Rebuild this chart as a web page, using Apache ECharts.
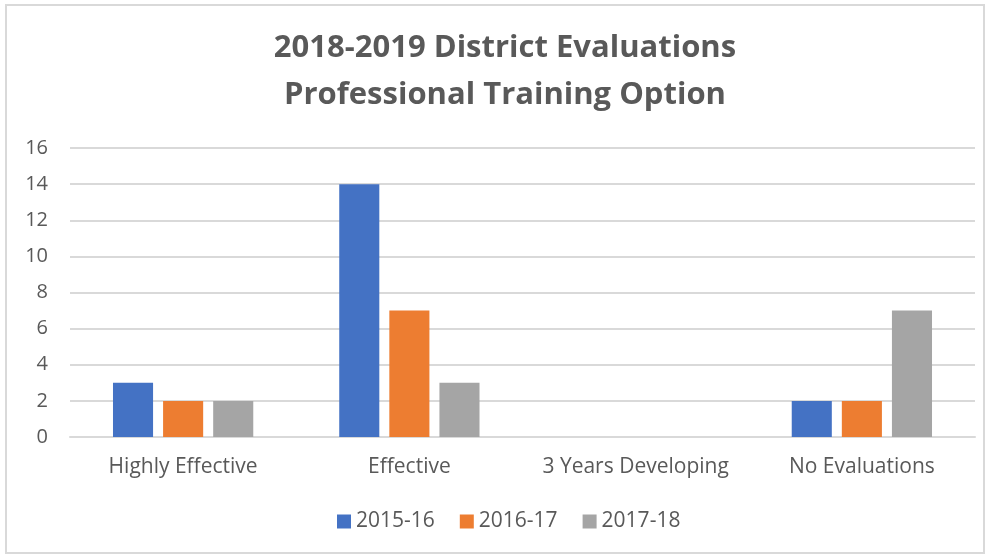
<!DOCTYPE html>
<html>
<head>
    <meta charset="utf-8" />
    <script type="text/javascript" src="https://cdn.jsdelivr.net/npm/echarts@6/dist/echarts.min.js"></script>
    <style>
      body{ margin: 0; background: #fff; }
      .container{
        position: absolute;
        left: 5px;
        top: 4px;
        width: 980px;
        height: 550px;
        border: 2px solid #d9d9d9;
        box-sizing: border-box;
      }
    </style>
</head>
<body>
<div class="container" id="container"></div>
<script>
var categories = ['Highly Effective', 'Effective', '3 Years Developing', 'No Evaluations'];
var seriesNames = ['2015-16', '2016-17', '2017-18'];
var values1516 = [3, 14, 0, 2];
var values1617 = [2, 7, 0, 2];
var values1718 = [2, 3, 0, 7];
var colors = ['#4472C4', '#ED7D31', '#A5A5A5'];

var dom = document.getElementById("container");
var myChart = echarts.init(dom);
var allValues = [values1516, values1617, values1718];

var series = [];
for (var i = 0; i < seriesNames.length; i++) {
  series.push({
    name: seriesNames[i],
    type: 'bar',
    data: allValues[i],
    barGap: '25%',
    barCategoryGap: '38%',
    itemStyle: { color: colors[i] },
    animation: false
  });
}

var option = {
  textStyle: { fontFamily: 'Open Sans' },
  color: colors,
  title: {
    text: '2018-2019 District Evaluations\nProfessional Training Option',
    left: 493,
    top: 14,
    textAlign: 'center',
    textStyle: {
      fontFamily: 'Open Sans',
      fontSize: 31,
      fontWeight: 'bold',
      color: '#595959',
      lineHeight: 47
    }
  },
  legend: {
    bottom: 15,
    left: 325,
    itemWidth: 14,
    itemHeight: 14,
    itemGap: 25,
    icon: 'rect',
    textStyle: { fontSize: 21, color: '#595959' },
    data: seriesNames
  },
  grid: {
    left: 63,
    right: 8,
    top: 142,
    bottom: 115
  },
  xAxis: {
    type: 'category',
    data: categories,
    axisLine: { lineStyle: { color: '#d9d9d9', width: 2 } },
    axisTick: { show: false },
    axisLabel: { interval: 0, fontSize: 21, color: '#595959', margin: 20 }
  },
  yAxis: {
    type: 'value',
    min: 0,
    max: 16,
    interval: 2,
    axisLine: { show: false },
    axisTick: { show: false },
    axisLabel: { fontSize: 20, color: '#595959', margin: 22 },
    splitLine: { lineStyle: { color: '#d9d9d9', width: 2 } }
  },
  series: series
};

myChart.setOption(option);
</script>
</body>
</html>
